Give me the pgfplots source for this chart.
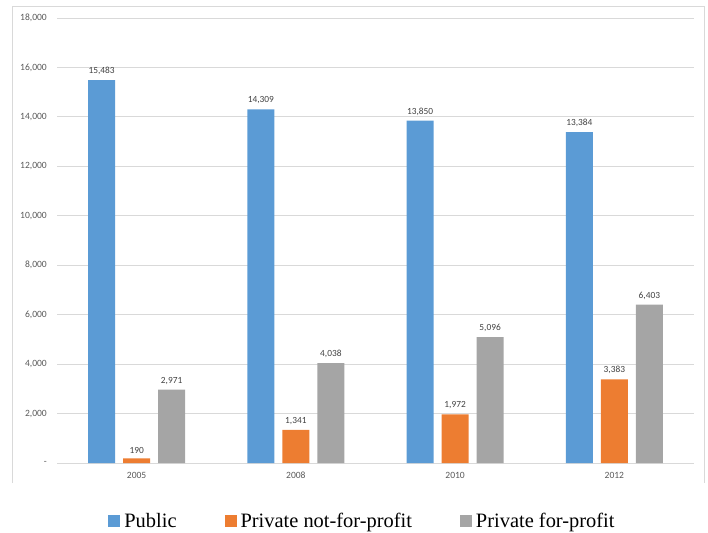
\documentclass[border=0pt]{standalone}
\usepackage{fontspec}
\setmainfont{Liberation Serif}
\newfontfamily\carlito{Carlito}
\usepackage{pgfplots}
\pgfplotsset{compat=1.18}

\definecolor{cpublic}{HTML}{5B9BD5}
\definecolor{cnfp}{HTML}{ED7D31}
\definecolor{cfp}{HTML}{A5A5A5}
\definecolor{cgrid}{HTML}{D9D9D9}
\definecolor{ctick}{HTML}{595959}
\definecolor{clabel}{HTML}{404040}

\begin{document}
\begin{tikzpicture}[x=1bp,y=1bp]
\useasboundingbox (0,0) rectangle (708,-533);
% chart border (open at the bottom, as cropped)
\draw[cgrid, line width=0.8bp] (12,-483) -- (12,-6) -- (704,-6) -- (704,-483);
\begin{axis}[
  at={(57bp,-463bp)}, anchor=south west,
  scale only axis,
  width=637bp, height=445bp,
  ybar=8bp, bar width=27bp,
  xmin=-0.5, xmax=3.5,
  ymin=0, ymax=18000,
  scaled y ticks=false,
  xtick=data,
  xticklabels={2005,2008,2010,2012},
  ytick={0,2000,...,18000},
  yticklabels={-,{2,000},{4,000},{6,000},{8,000},{10,000},{12,000},{14,000},{16,000},{18,000}},
  axis x line*=bottom,
  axis y line*=left,
  x axis line style={draw=cgrid, line width=0.8bp},
  y axis line style={draw=none},
  major tick length=0pt,
  ymajorgrids,
  grid style={draw=cgrid, line width=0.8bp},
  ticklabel style={font=\carlito\fontsize{9.6}{10}\selectfont, text=ctick},
  yticklabel style={inner sep=0pt, xshift=-10bp},
  xticklabel style={inner sep=0pt, yshift=-9bp},
  nodes near coords,
  every node near coord/.append style={font=\carlito\fontsize{9.4}{10}\selectfont, text=clabel, inner sep=0pt, yshift=5bp},
  /pgf/number format/.cd, 1000 sep={,}, assume math mode=true,
  /pgfplots/.cd,
  legend columns=3,
  legend style={at={(0.4795,-0.13)}, anchor=center, draw=none, fill=none,
    font=\fontsize{20.5}{23}\selectfont, inner sep=0pt,
    /tikz/every odd column/.append style={column sep=2bp},
    /tikz/every even column/.append style={column sep=46bp}},
  legend image code/.code={\fill[#1] (0bp,-6bp) rectangle (12bp,6bp);},
  legend cell align=left,
]
\addplot[fill=cpublic, draw=none] coordinates {(0,15483) (1,14309) (2,13850) (3,13384)};
\addplot[fill=cnfp, draw=none] coordinates {(0,190) (1,1341) (2,1972) (3,3383)};
\addplot[fill=cfp, draw=none] coordinates {(0,2971) (1,4038) (2,5096) (3,6403)};
\legend{Public, Private not-for-profit, Private for-profit}
\end{axis}
\end{tikzpicture}
\end{document}
